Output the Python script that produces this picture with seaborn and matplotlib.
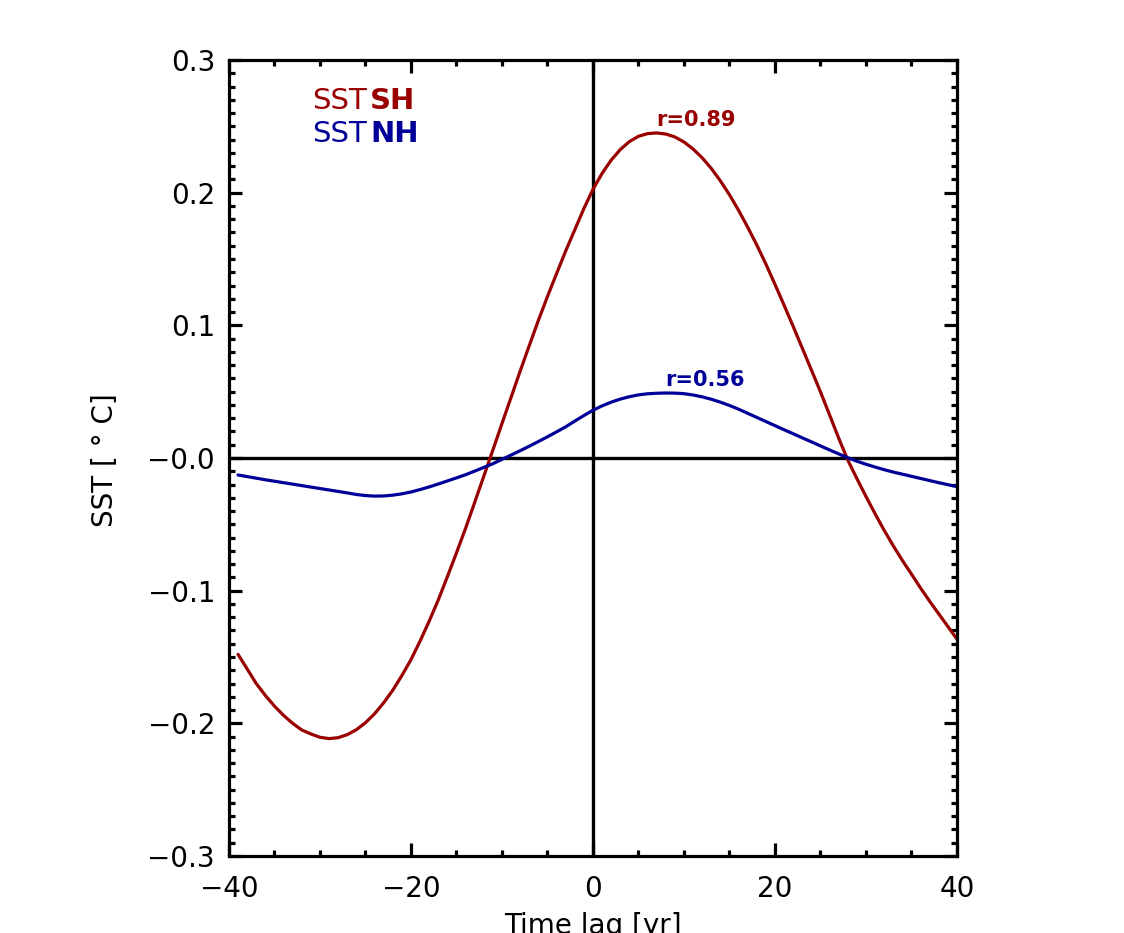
# -------------------------------------------
# импортирование библиотек
import numpy as np
import pandas as pd
import matplotlib
matplotlib.use('Agg')
import matplotlib.pyplot as plt
from matplotlib.ticker import MultipleLocator, FixedLocator, FixedFormatter
import seaborn as sns

# -------------------------------------------
# данные
lags = list(range(-39, 41))

sst_sh = [-0.148, -0.159, -0.170, -0.179, -0.187, -0.194, -0.200, -0.205, -0.208, -0.2105,
          -0.2115, -0.2108, -0.2085, -0.2048, -0.1995, -0.1928, -0.1845, -0.175, -0.164, -0.152,
          -0.138, -0.123, -0.107, -0.0895, -0.0715, -0.053, -0.0335, -0.0138, 0.006, 0.026,
          0.0457, 0.0655, 0.0847, 0.1037, 0.1217, 0.139, 0.156, 0.172, 0.188, 0.2025,
          0.2145, 0.2245, 0.2325, 0.2385, 0.2425, 0.2445, 0.245, 0.2442, 0.242, 0.2382,
          0.2329, 0.2263, 0.2183, 0.2089, 0.1984, 0.1867, 0.174, 0.1606, 0.1462, 0.1309,
          0.1152, 0.0992, 0.0828, 0.0664, 0.0499, 0.0325, 0.015, -0.0015, -0.0155, -0.0290,
          -0.0420, -0.0545, -0.0662, -0.0772, -0.0875, -0.0980, -0.1080, -0.1175, -0.1270, -0.1365]

sst_nh = [-0.0128, -0.0140, -0.0152, -0.0164, -0.0175, -0.0186, -0.0197, -0.0208, -0.0219, -0.0230,
          -0.0241, -0.0252, -0.0263, -0.0275, -0.0283, -0.0287, -0.0286, -0.0280, -0.0270, -0.0256,
          -0.0238, -0.0218, -0.0196, -0.0173, -0.0150, -0.0126, -0.0099, -0.0071, -0.0043, -0.0010,
          0.0022, 0.0055, 0.0089, 0.0124, 0.0160, 0.0197, 0.0235, 0.0278, 0.0320, 0.0360,
          0.0393, 0.0421, 0.0444, 0.0462, 0.0476, 0.0484, 0.0488, 0.0490, 0.0489, 0.0485,
          0.0475, 0.0461, 0.0443, 0.0421, 0.0396, 0.0368, 0.0337, 0.0306, 0.0275, 0.0244,
          0.0213, 0.0183, 0.0152, 0.0122, 0.0091, 0.0061, 0.0031, 0.0002, -0.0024, -0.0047,
          -0.0068, -0.0088, -0.0106, -0.0122, -0.0138, -0.0154, -0.0170, -0.0186, -0.0201, -0.0216]

x_ticks = [-40, -20, 0, 20, 40]
x_tick_labels = ['\u221240', '\u221220', '0', '20', '40']
y_ticks = [0.3, 0.2, 0.1, 0.0, -0.1, -0.2, -0.3]
y_tick_labels = ['0.3', '0.2', '0.1', '\u22120.0', '\u22120.1', '\u22120.2', '\u22120.3']

series_names = ['SH', 'NH']
r_labels = ['r=0.89', 'r=0.56']

# цвета
red = '#990000'
blue = '#000099'

# -------------------------------------------
# оформление
sns.set_style('ticks')
plt.rcParams['font.family'] = ['DejaVu Sans']
plt.rcParams['axes.linewidth'] = 2.3
plt.rcParams['axes.edgecolor'] = 'black'
plt.rcParams['axes.labelcolor'] = 'black'
plt.rcParams['text.color'] = 'black'
plt.rcParams['xtick.color'] = 'black'
plt.rcParams['ytick.color'] = 'black'

df = pd.DataFrame({'lag': lags, 'SH': sst_sh, 'NH': sst_nh})

fig = plt.figure(figsize=(11.24, 9.33), dpi=100)
ax = fig.add_axes([0.2037, 0.0825, 0.6477, 0.8532])

# нулевые линии
ax.axhline(0, color='black', lw=2.4, zorder=1)
ax.axvline(0, color='black', lw=2.4, zorder=1)

# кривые
sns.lineplot(data=df, x='lag', y='SH', color=red, lw=2.3, ax=ax, zorder=2)
sns.lineplot(data=df, x='lag', y='NH', color=blue, lw=2.3, ax=ax, zorder=2)

ax.set_xlim(-40, 40)
ax.set_ylim(-0.3, 0.3)

# оси и деления
ax.xaxis.set_major_locator(FixedLocator(x_ticks))
ax.xaxis.set_major_formatter(FixedFormatter(x_tick_labels))
ax.xaxis.set_minor_locator(MultipleLocator(5))
ax.yaxis.set_major_locator(FixedLocator(y_ticks))
ax.yaxis.set_major_formatter(FixedFormatter(y_tick_labels))
ax.yaxis.set_minor_locator(MultipleLocator(0.01))

ax.tick_params(which='both', direction='in', top=True, right=True, width=2.3, colors='black')
ax.tick_params(which='major', length=9.5, labelsize=20)
ax.tick_params(which='minor', length=4.5)
ax.tick_params(axis='x', which='major', pad=14)
ax.tick_params(axis='y', which='major', pad=10)

# подписи осей
ax.set_xlabel('Time lag [yr]', fontsize=20)
ax.xaxis.set_label_coords(0.5, -0.0704)
ax.set_ylabel('SST [ \u00b0 C]', fontsize=20)
ax.yaxis.set_label_coords(-0.151, 0.497)

# легенда текстом
ax.text(0.114, 0.948, 'SST', color=red, fontsize=21, transform=ax.transAxes, va='center', ha='left')
ax.text(0.194, 0.948, series_names[0], color=red, fontsize=21, fontweight='bold',
        transform=ax.transAxes, va='center', ha='left')
ax.text(0.114, 0.907, 'SST', color=blue, fontsize=21, transform=ax.transAxes, va='center', ha='left')
ax.text(0.194, 0.907, series_names[1], color=blue, fontsize=21, fontweight='bold',
        transform=ax.transAxes, va='center', ha='left')

# коэффициенты корреляции
ax.text(11.3, 0.2548, r_labels[0], color=red, fontsize=15, fontweight='bold', ha='center', va='center')
ax.text(12.3, 0.0588, r_labels[1], color=blue, fontsize=15, fontweight='bold', ha='center', va='center')

fig.savefig('out.png', dpi=100)
